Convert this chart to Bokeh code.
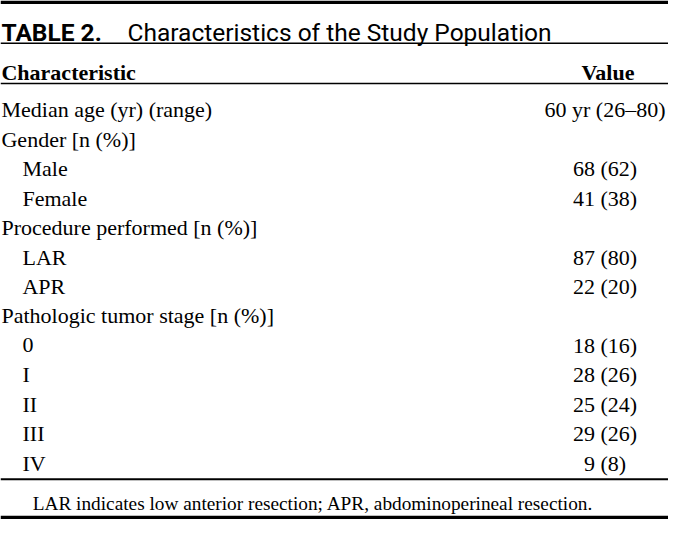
from bokeh.plotting import figure
from bokeh.models import Range1d, ColumnDataSource
from bokeh.core.properties import value
from bokeh.embed import file_html
from bokeh.resources import INLINE

# ---- data ----
title_label = "TABLE 2."
title_text = "Characteristics of the Study Population"
header_left = "Characteristic"
header_right = "Value"
characteristics = [
    "Median age (yr) (range)",
    "Gender [n (%)]",
    "Male",
    "Female",
    "Procedure performed [n (%)]",
    "LAR",
    "APR",
    "Pathologic tumor stage [n (%)]",
    "0",
    "I",
    "II",
    "III",
    "IV",
]
indent = [0, 0, 1, 1, 0, 1, 1, 0, 1, 1, 1, 1, 1]
values = [
    "60 yr (26\u201380)",
    "",
    "68 (62)",
    "41 (38)",
    "",
    "87 (80)",
    "22 (20)",
    "",
    "18 (16)",
    "28 (26)",
    "25 (24)",
    "29 (26)",
    "9 (8)",
]
footnote = "LAR indicates low anterior resection; APR, abdominoperineal resection."

# ---- layout (reference pixel coordinates) ----
W, H = 684, 535
row0, row_step = 112.7, 30.35
left_x, indent_x = 1, 22.5
value_x = 619

p = figure(width=668, height=519, output_backend="svg", toolbar_location=None,
           x_range=Range1d(0, W), y_range=Range1d(H, 0), min_border=0)
p.axis.visible = False
p.grid.visible = False
p.outline_line_color = None
p.background_fill_color = "white"
p.border_fill_color = "white"

serif = value("Liberation Serif")
sans = value("Roboto")

# rules
rules_y = [1.8, 44, 85.5, 493.5, 533]
rules_w = [3.6, 1.6, 1.6, 2.2, 3.6]
p.segment(x0=[0] * 5, x1=[W] * 5, y0=rules_y, y1=rules_y,
          line_width=rules_w, line_color="black")

# title
p.text(x=[1], y=[33], text=[title_label], text_font=sans, text_font_style="bold",
       text_font_size="24.5px", text_baseline="alphabetic", text_color="black")
p.text(x=[130], y=[33], text=[title_text], text_font=sans,
       text_font_size="24.5px", text_baseline="alphabetic", text_color="black")

# header
p.text(x=[left_x], y=[74], text=[header_left], text_font=serif, text_font_style="bold",
       text_font_size="22px", text_baseline="alphabetic", text_color="black")
p.text(x=[value_x + 3], y=[74], text=[header_right], text_font=serif, text_font_style="bold",
       text_font_size="22px", text_baseline="alphabetic", text_align="center",
       text_color="black")

# body
ys = [row0 + row_step * i for i in range(len(characteristics))]
xs = [indent_x if lvl else left_x for lvl in indent]
src = ColumnDataSource(dict(x=xs, y=ys, label=characteristics, val=values))
p.text(x="x", y="y", text="label", source=src, text_font=serif,
       text_font_size="22px", text_baseline="alphabetic", text_color="black")
p.text(x=value_x, y="y", text="val", source=src, text_font=serif,
       text_font_size="22px", text_baseline="alphabetic", text_align="center",
       text_color="black")

# footnote
p.text(x=[33], y=[518], text=[footnote], text_font=serif,
       text_font_size="19.3px", text_baseline="alphabetic", text_color="black")

open("out.html", "w").write(file_html(p, INLINE))
